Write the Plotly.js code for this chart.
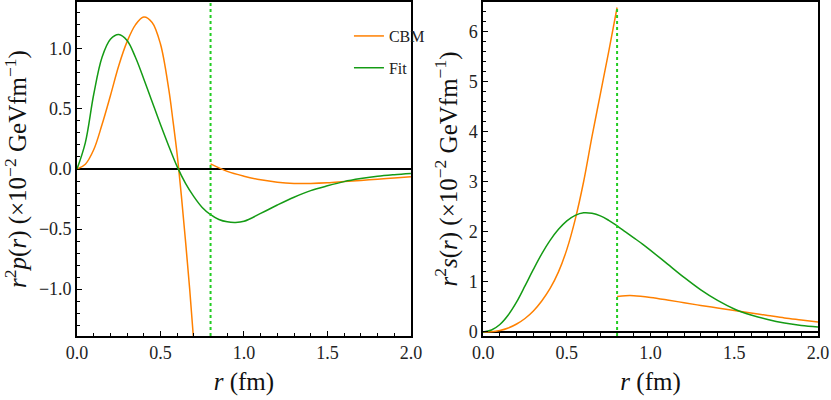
<!DOCTYPE html>
<html>
<head>
<meta charset="utf-8">
<script src="https://cdn.plot.ly/plotly-3.0.1.min.js"></script>
<style>
  html, body { margin: 0; padding: 0; background: #fff; }
  #chart { width: 831px; height: 400px; }
</style>
</head>
<body>
<div id="chart"></div>
<script>
// bag radius (fm), where the CBM curves jump
const bagRadius = 0.8;

// left panel: r^2 p(r)
const cbmPressureInR = [0, 0.05, 0.1, 0.15, 0.2, 0.25, 0.3, 0.35, 0.4, 0.45, 0.5, 0.55, 0.575, 0.6, 0.625, 0.65, 0.675, 0.7];
const cbmPressureIn  = [0, 0.04, 0.16, 0.37, 0.61, 0.86, 1.06, 1.20, 1.265, 1.22, 1.04, 0.66, 0.40, 0.12, -0.22, -0.60, -1.00, -1.45];
const cbmPressureOutR = [0.8, 0.9, 1.0, 1.1, 1.2, 1.3, 1.4, 1.5, 1.6, 1.7, 1.8, 1.9, 2.0];
const cbmPressureOut  = [0.042, -0.02, -0.06, -0.09, -0.11, -0.12, -0.12, -0.115, -0.105, -0.095, -0.085, -0.075, -0.064];
const fitPressureR = [0, 0.05, 0.1, 0.15, 0.2, 0.25, 0.3, 0.35, 0.4, 0.45, 0.5, 0.55, 0.6, 0.65, 0.7, 0.75, 0.8, 0.85, 0.9, 0.95, 1.0, 1.1, 1.2, 1.3, 1.4, 1.5, 1.6, 1.7, 1.8, 1.9, 2.0];
const fitPressure  = [0, 0.22, 0.62, 0.93, 1.08, 1.12, 1.07, 0.93, 0.75, 0.56, 0.37, 0.19, 0.02, -0.12, -0.23, -0.32, -0.38, -0.42, -0.44, -0.445, -0.435, -0.37, -0.30, -0.235, -0.18, -0.14, -0.105, -0.08, -0.06, -0.047, -0.037];

// right panel: r^2 s(r)
const cbmShearInR = [0, 0.05, 0.1, 0.15, 0.2, 0.25, 0.3, 0.35, 0.4, 0.45, 0.5, 0.55, 0.6, 0.65, 0.7, 0.75, 0.8];
const cbmShearIn  = [0, 0.005, 0.03, 0.08, 0.16, 0.27, 0.42, 0.62, 0.87, 1.2, 1.65, 2.25, 3.0, 3.9, 4.75, 5.6, 6.48];
const cbmShearOutR = [0.8, 0.85, 0.9, 1.0, 1.1, 1.2, 1.3, 1.4, 1.5, 1.6, 1.7, 1.8, 1.9, 2.0];
const cbmShearOut  = [0.71, 0.725, 0.725, 0.69, 0.64, 0.585, 0.53, 0.48, 0.43, 0.38, 0.33, 0.28, 0.24, 0.20];
const fitShearR = [0, 0.05, 0.1, 0.15, 0.2, 0.25, 0.3, 0.35, 0.4, 0.45, 0.5, 0.55, 0.6, 0.65, 0.7, 0.75, 0.8, 0.85, 0.9, 0.95, 1.0, 1.1, 1.2, 1.3, 1.4, 1.5, 1.6, 1.7, 1.8, 1.9, 2.0];
const fitShear  = [0, 0.04, 0.15, 0.34, 0.6, 0.92, 1.25, 1.56, 1.83, 2.05, 2.22, 2.33, 2.38, 2.37, 2.32, 2.23, 2.12, 2.0, 1.88, 1.76, 1.63, 1.36, 1.09, 0.84, 0.63, 0.46, 0.34, 0.25, 0.18, 0.13, 0.10];

const ORANGE = "#ff8000";
const GREEN = "#149b14";
const DOT_GREEN = "#22cc22";
const FONT = "'Liberation Serif', 'Times New Roman', serif";

function curve(x, y, color, xa, ya, name, show){
    return {
        type: "scatter", mode: "lines",
        x: x, y: y, xaxis: xa, yaxis: ya,
        name: name, legendgroup: name, showlegend: show,
        line: { color: color, width: 1.5, shape: "spline", smoothing: 1 },
        hoverinfo: "skip",
    };
}

const traces = [
    curve(cbmPressureInR, cbmPressureIn, ORANGE, "x", "y", "CBM", true),
    curve(cbmPressureOutR, cbmPressureOut, ORANGE, "x", "y", "CBM", false),
    curve(fitPressureR, fitPressure, GREEN, "x", "y", "Fit", true),
    curve(cbmShearInR, cbmShearIn, ORANGE, "x2", "y2", "CBM", false),
    curve(cbmShearOutR, cbmShearOut, ORANGE, "x2", "y2", "CBM", false),
    curve(fitShearR, fitShear, GREEN, "x2", "y2", "Fit", false),
];

function xaxis(domain, anchor){
    return {
        domain: domain, anchor: anchor, range: [0, 2],
        dtick: 0.5, tick0: 0, tickformat: ".1f",
        ticks: "inside", ticklen: 5, tickwidth: 1, tickcolor: "#000",
        minor: { dtick: 0.1, ticks: "inside", ticklen: 3, tickcolor: "#000" },
        showline: true, linecolor: "#000", linewidth: 1.8, mirror: true,
        showgrid: false, zeroline: false,
        tickfont: { family: FONT, size: 18, color: "#222" },
        title: { text: "<i>r</i> (fm)", font: { family: FONT, size: 25, color: "#111" }, standoff: 10 },
    };
}

function yaxis(anchor, range, dtick, fmt, minorStep, title, standoff, automargin){
    return {
        domain: [0, 1], anchor: anchor, range: range,
        dtick: dtick, tick0: 0, tickformat: fmt,
        ticks: "inside", ticklen: 5, tickwidth: 1, tickcolor: "#000",
        minor: { dtick: minorStep, ticks: "inside", ticklen: 3, tickcolor: "#000" },
        showline: true, linecolor: "#000", linewidth: 1.8, mirror: true,
        showgrid: false, zeroline: true, zerolinecolor: "#000", zerolinewidth: 1.5,
        automargin: automargin,
        tickfont: { family: FONT, size: 18, color: "#222" },
        title: { text: title, font: { family: FONT, size: 25, color: "#111" }, standoff: standoff },
    };
}

const layout = {
    width: 831, height: 400,
    margin: { l: 77, r: 13, t: 2, b: 64 },
    paper_bgcolor: "#fff", plot_bgcolor: "#fff",
    font: { family: FONT, color: "#222" },
    showlegend: true,
    legend: {
        x: 0.367, y: 0.949, xanchor: "left", yanchor: "top",
        traceorder: "grouped", tracegroupgap: 8,
        font: { family: FONT, size: 16, color: "#222" },
        bgcolor: "rgba(0,0,0,0)",
    },
    xaxis: xaxis([0, 0.4506], "y"),
    yaxis: yaxis("x", [-1.39, 1.39], 0.5, ".1f", 0.1,
        "<i>r</i><sup>2</sup><i>p</i>(<i>r</i>) (×10<sup>−2</sup> GeVfm<sup>−1</sup>)", 10, false),
    xaxis2: xaxis([0.5481, 1], "y2"),
    yaxis2: yaxis("x2", [-0.08, 6.59], 1, "d", 0.2,
        "<i>r</i><sup>2</sup><i>s</i>(<i>r</i>) (×10<sup>−2</sup> GeVfm<sup>−1</sup>)", 4, true),
    shapes: [
        { type: "line", xref: "x", yref: "y domain", x0: bagRadius, x1: bagRadius, y0: 0, y1: 1,
          line: { color: DOT_GREEN, width: 2, dash: "dot" } },
        { type: "line", xref: "x2", yref: "y2 domain", x0: bagRadius, x1: bagRadius, y0: 0, y1: 0.985,
          line: { color: DOT_GREEN, width: 2, dash: "dot" } },
    ],
};

Plotly.newPlot("chart", traces, layout, { displayModeBar: false, staticPlot: true });
</script>
</body>
</html>
